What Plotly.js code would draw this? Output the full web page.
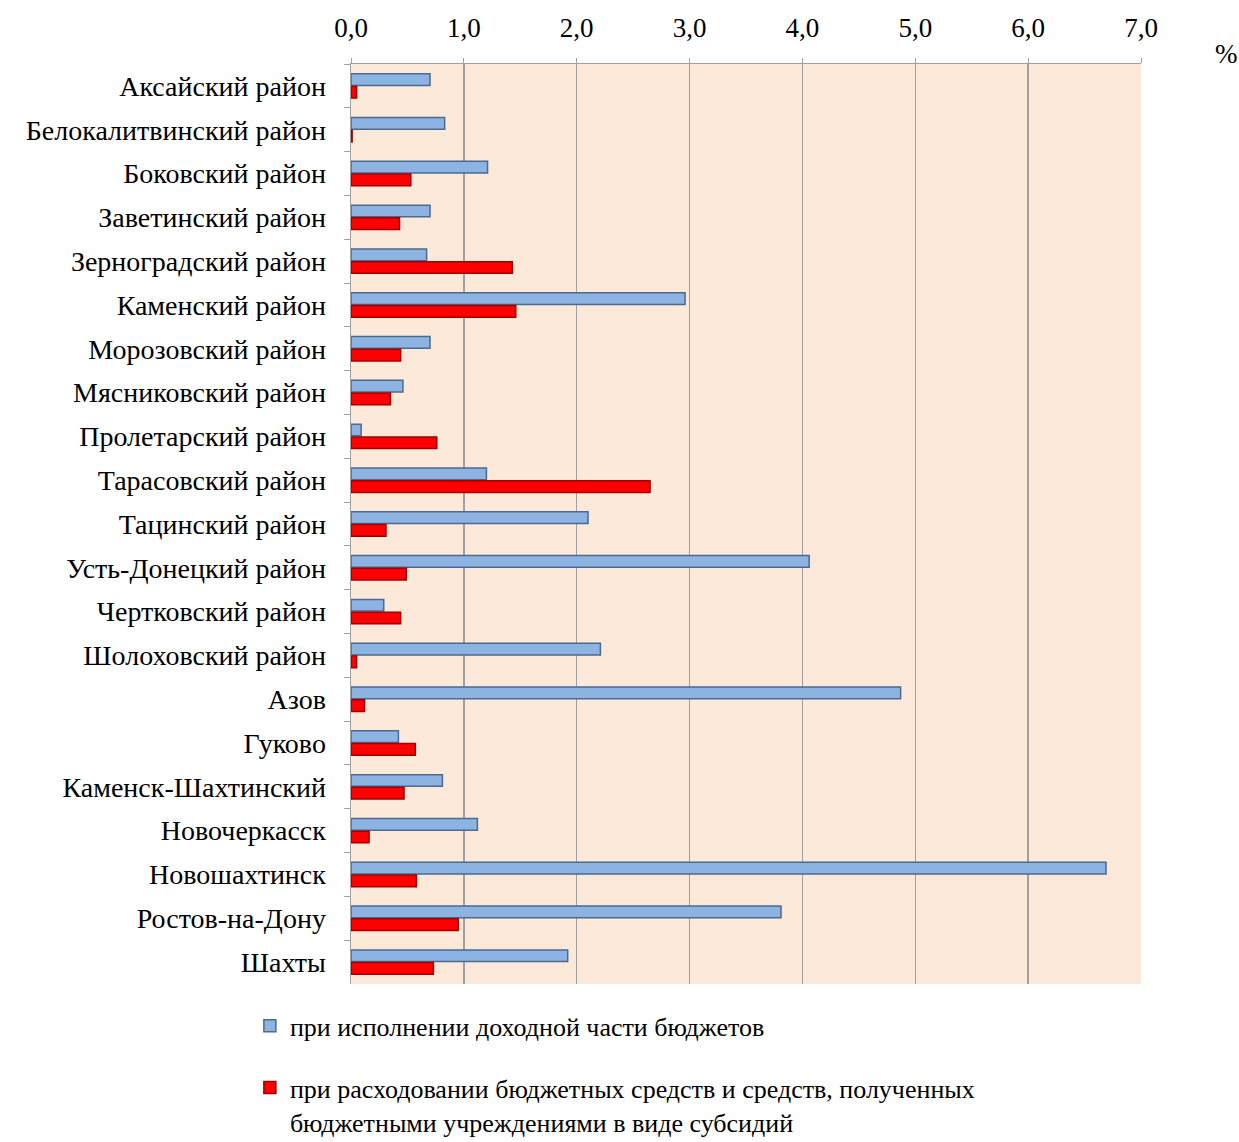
<!DOCTYPE html>
<html>
<head>
<meta charset="utf-8">
<script src="https://cdn.plot.ly/plotly-3.0.1.min.js"></script>
<style>html,body{margin:0;padding:0;background:#fff;}#chart{width:1239px;height:1142px;}</style>
</head>
<body>
<div id="chart"></div>
<script>
const categories = [
  "Аксайский район", "Белокалитвинский район", "Боковский район", "Заветинский район",
  "Зерноградский район", "Каменский район", "Морозовский район", "Мясниковский район",
  "Пролетарский район", "Тарасовский район", "Тацинский район", "Усть-Донецкий район",
  "Чертковский район", "Шолоховский район", "Азов", "Гуково", "Каменск-Шахтинский",
  "Новочеркасск", "Новошахтинск", "Ростов-на-Дону", "Шахты"
];
const incomeValues = [0.70, 0.83, 1.21, 0.70, 0.67, 2.96, 0.70, 0.46, 0.09, 1.20, 2.10,
  4.06, 0.29, 2.21, 4.87, 0.42, 0.81, 1.12, 6.69, 3.81, 1.92];
const spendingValues = [0.05, 0.01, 0.53, 0.43, 1.43, 1.46, 0.44, 0.35, 0.76, 2.65, 0.31,
  0.49, 0.44, 0.05, 0.12, 0.57, 0.47, 0.16, 0.58, 0.95, 0.73];
const seriesNames = [
  "при исполнении доходной части бюджетов",
  "при расходовании бюджетных средств и средств, полученных<br>бюджетными учреждениями в виде субсидий"
];
const xTicks = [0, 1, 2, 3, 4, 5, 6, 7];

const font = "Liberation Serif, Times New Roman, serif";

const traces = [
  {
    type: "bar", orientation: "h", y: categories, x: incomeValues, name: seriesNames[0],
    legendgroup: "a",
    marker: {color: "#8db3e2", line: {color: "#4a6a90", width: 1.5}}
  },
  {
    type: "bar", orientation: "h", y: categories, x: spendingValues, name: seriesNames[1],
    legendgroup: "b",
    marker: {color: "#ff0000", line: {color: "#a00000", width: 1.5}}
  }
];

const layout = {
  width: 1239, height: 1142,
  margin: {l: 351, r: 98, t: 64, b: 158, pad: 0, autoexpand: false},
  paper_bgcolor: "#ffffff",
  plot_bgcolor: "#fde9d9",
  separators: ", ",
  barmode: "group",
  bargap: 0.42,
  bargroupgap: 0.08,
  font: {family: font, size: 27, color: "#000"},
  xaxis: {
    side: "top", range: [0, 7], tickvals: xTicks, tickformat: ".1f",
    showgrid: true, gridcolor: "#a0a0a0", gridwidth: 1.5,
    showline: true, linecolor: "#a0a0a0", linewidth: 1.5, mirror: false,
    ticks: "outside", ticklen: 5, tickcolor: "#a0a0a0",
    ticklabelstandoff: 10,
    tickfont: {family: font, size: 27}, zeroline: false, fixedrange: true
  },
  yaxis: {
    type: "category", autorange: "reversed",
    showline: true, linecolor: "#a0a0a0", linewidth: 1.5,
    ticks: "outside", tickson: "boundaries", ticklen: 6, tickcolor: "#a0a0a0",
    ticklabelstandoff: 18,
    tickfont: {family: font, size: 28}, showgrid: false, fixedrange: true
  },
  showlegend: true,
  legend: {
    orientation: "v", x: -0.128, xanchor: "left", y: -0.02, yanchor: "top",
    font: {family: font, size: 26}, tracegroupgap: 25, itemwidth: 30, valign: "top",
    bgcolor: "rgba(0,0,0,0)", borderwidth: 0
  },
  annotations: [
    {text: "%", xref: "paper", yref: "paper", x: 1.108, y: 1.0, xanchor: "center", yanchor: "bottom",
     yshift: -7, showarrow: false, font: {family: font, size: 27}}
  ]
};

Plotly.newPlot("chart", traces, layout, {displayModeBar: false, staticPlot: true});
</script>
</body>
</html>
